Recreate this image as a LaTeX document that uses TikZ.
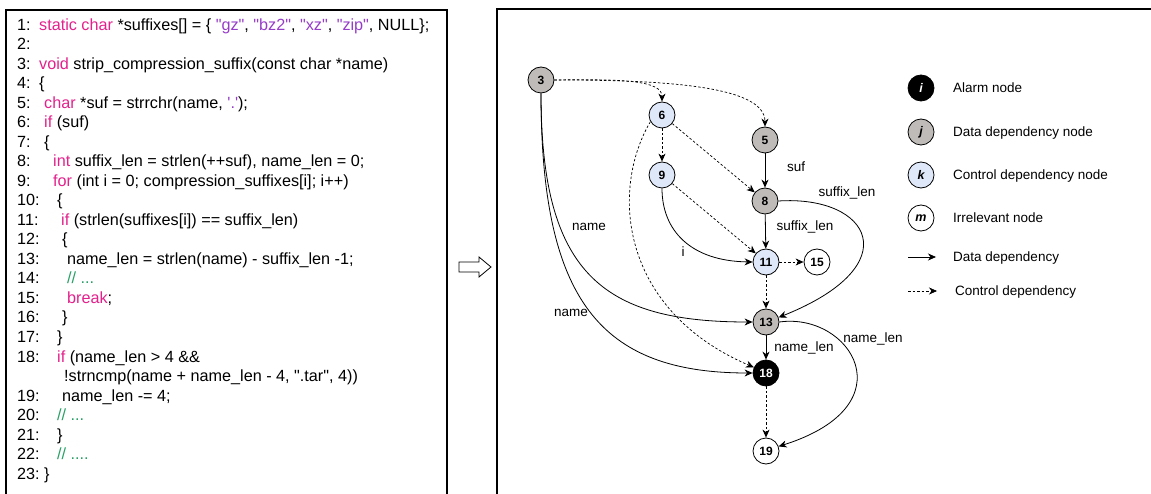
\documentclass[tikz,border=0pt]{standalone}
\usepackage{fontspec}
\newfontfamily\arialfont{Liberation Sans}
\usepackage{tikz}
\usetikzlibrary{arrows.meta}
\usetikzlibrary{calc}

\definecolor{kwpink}{RGB}{228,32,140}
\definecolor{strpurple}{RGB}{150,60,200}
\definecolor{cmtgreen}{RGB}{40,160,100}
\definecolor{nodegray}{RGB}{191,187,185}
\definecolor{ctrlblue}{RGB}{223,232,249}

\newcommand{\kw}[1]{\textcolor{kwpink}{#1}}
\newcommand{\strg}[1]{\textcolor{strpurple}{#1}}
\newcommand{\cmt}[1]{\textcolor{cmtgreen}{#1}}

\begin{document}
\begin{tikzpicture}[x=1pt,y=-1pt,
    codeline/.style={anchor=base west, inner sep=0pt, font=\arialfont\fontsize{16.2}{19}\selectfont},
    pdgnode/.style={circle, draw, line width=0.8pt, minimum size=26pt, inner sep=0pt, font=\arialfont\bfseries\fontsize{12}{13}\selectfont},
    alarmnode/.style={pdgnode, fill=black, text=white},
    datanode/.style={pdgnode, fill=nodegray},
    ctrlnode/.style={pdgnode, fill=ctrlblue},
    plainnode/.style={pdgnode, fill=white},
    legendnode/.style={font=\arialfont\bfseries\itshape\fontsize{12.5}{13}\selectfont},
    dataedge/.style={-{Stealth[length=8pt,width=7pt,inset=2.5pt]}, line width=0.8pt},
    ctrledge/.style={dataedge, line width=0.7pt, dash pattern=on 2.5pt off 2pt},
    edgelabel/.style={inner sep=0pt, font=\arialfont\fontsize{13.5}{15}\selectfont},
    legendtext/.style={anchor=base west, inner sep=0pt, font=\arialfont\fontsize{13.5}{15}\selectfont}]
    \useasboundingbox (0,0) rectangle (1151,494);

    % Cadres
    \draw[line width=1.2pt] (6,500) -- (6,10) -- (447,10) -- (447,500);
    \draw[line width=1.2pt] (497,500) -- (497,9) -- (1160,9);
    \draw[line width=0.8pt] (459,262) -- (479,262) -- (479,257) -- (491,267)
        -- (479,277) -- (479,272) -- (459,272) -- cycle;

    % Code source
    \foreach \k in {1,...,18}
        \node[codeline] (num\k) at (17,{30.5+(\k-1)*19.5}) {\k:};
    \foreach \k in {19,...,23}
        \node[codeline] (num\k) at (17,{30.5+\k*19.5}) {\k:};
    \node[codeline] (c1) at (39,30.5) {\kw{static char} *suffixes[] = \{ \strg{"gz"}, \strg{"bz2"}, \strg{"xz"}, \strg{"zip"}, NULL\};};
    \node[codeline] (c3) at (39,69.5) {\kw{void} strip\_compression\_suffix(const char *name)};
    \node[codeline] (c4) at (39,89) {\{};
    \node[codeline] (c5) at (44,108.5) {\kw{char} *suf = strrchr(name, \strg{'.'});};
    \node[codeline] (c6) at (44,128) {\kw{if} (suf)};
    \node[codeline] (c7) at (44,147.5) {\{};
    \node[codeline] (c8) at (53,167) {\kw{int} suffix\_len = strlen(++suf), name\_len = 0;};
    \node[codeline] (c9) at (53,186.5) {\kw{for} (int i = 0; compression\_suffixes[i]; i++)};
    \node[codeline] (c10) at (57,206) {\{};
    \node[codeline] (c11) at (61,225.5) {\kw{if} (strlen(suffixes[i]) == suffix\_len)};
    \node[codeline] (c12) at (62,245) {\{};
    \node[codeline] (c13) at (67,264.5) {name\_len = strlen(name) - suffix\_len -1;};
    \node[codeline] (c14) at (67,284) {\cmt{// ...}};
    \node[codeline] (c15) at (67,303.5) {\kw{break};};
    \node[codeline] (c16) at (62,323) {\}};
    \node[codeline] (c17) at (57,342.5) {\}};
    \node[codeline] (c18) at (57,362) {\kw{if} (name\_len > 4 \&\&};
    \node[codeline] (c18b) at (64,381.5) {!strncmp(name + name\_len - 4, ".tar", 4))};
    \node[codeline] (c19) at (62,401) {name\_len -= 4;};
    \node[codeline] (c20) at (57,420.5) {\cmt{// ...}};
    \node[codeline] (c21) at (57,440) {\}};
    \node[codeline] (c22) at (57,459.5) {\cmt{// ....}};
    \node[codeline] (c23) at (44,479) {\}};

    % Graphe de dependances
    \node[datanode] (n3) at (541,80) {3};
    \node[ctrlnode] (n6) at (662,115) {6};
    \node[datanode] (n5) at (765,140) {5};
    \node[ctrlnode] (n9) at (662,175) {9};
    \node[datanode] (n8) at (765,201) {8};
    \node[ctrlnode] (n11) at (766,262) {11};
    \node[plainnode] (n15) at (817,262) {15};
    \node[datanode] (n13) at (766,322) {13};
    \node[alarmnode] (n18) at (766,373) {18};
    \node[plainnode] (n19) at (766,451) {19};

    \draw[ctrledge] (n3.east) .. controls (620,79) and (662,80) .. (n6.north);
    \draw[ctrledge] (n3.east) .. controls (660,80) and (765,85) .. (n5.north);
    \draw[ctrledge] (n6) -- (n9);
    \draw[ctrledge] (n6) -- (n8);
    \draw[ctrledge] (n6.210) .. controls (610,190) and (620,310) .. (n18.155);
    \draw[ctrledge] (n9) -- (n11);
    \draw[ctrledge] (n11) -- (n15);
    \draw[ctrledge] (n11) -- (n13);
    \draw[ctrledge] (n18) -- (n19);
    \draw[dataedge] (n5) -- (n8);
    \draw[dataedge] (n8) -- (n11);
    \draw[dataedge] (n13) -- (n18);
    \draw[dataedge] (n9.south) .. controls (662,230) and (690,261) .. (n11.west);
    \draw[dataedge] (n8.east) .. controls (870,195) and (910,265) .. (n13.20);
    \draw[dataedge] (n13.east) .. controls (850,312) and (910,405) .. (n19.20);
    \draw[dataedge] (n3.south) .. controls (541,273) and (602,322) .. (n13.west);
    \draw[dataedge] (n3.south) .. controls (541,300) and (600,373) .. (n18.west);

    \node[edgelabel] (lsuf) at (796,167) {suf};
    \node[edgelabel] (lsuflen1) at (847,193) {suffix\_len};
    \node[edgelabel] (lsuflen2) at (805,227) {suffix\_len};
    \node[edgelabel] (lname1) at (589,227) {name};
    \node[edgelabel] (li) at (683,252) {i};
    \node[edgelabel] (lname2) at (571,313) {name};
    \node[edgelabel] (lnamelen1) at (804,348) {name\_len};
    \node[edgelabel] (lnamelen2) at (873,339) {name\_len};

    % Legende
    \node[alarmnode, legendnode] (kalarm) at (921,88) {i};
    \node[datanode, legendnode] (kdata) at (921,132) {j};
    \node[ctrlnode, legendnode] (kctrl) at (921,175) {k};
    \node[plainnode, legendnode] (kplain) at (921,218) {m};
    \node[legendtext] (talarm) at (953,93) {Alarm node};
    \node[legendtext] (tdata) at (953,137) {Data dependency node};
    \node[legendtext] (tctrl) at (953,180) {Control dependency node};
    \node[legendtext] (tplain) at (953,223) {Irrelevant node};
    \coordinate (dstart) at (908,257);
    \coordinate (dend) at (936,257);
    \coordinate (cstart) at (908,291);
    \coordinate (cend) at (937,291);
    \draw[dataedge] (dstart) -- (dend);
    \draw[ctrledge] (cstart) -- (cend);
    \node[legendtext] (tdataedge) at (953,262) {Data dependency};
    \node[legendtext] (tctrledge) at (955,296) {Control dependency};
\end{tikzpicture}
\end{document}
